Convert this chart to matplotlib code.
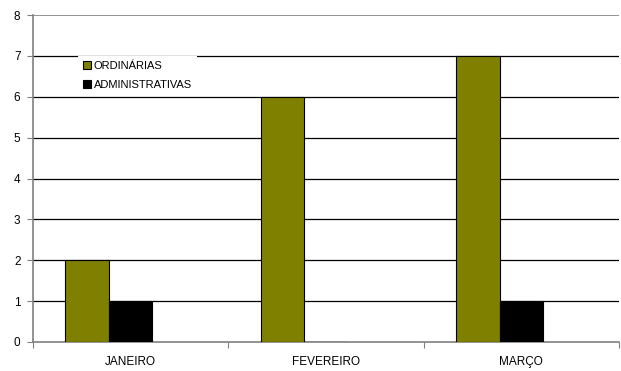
import matplotlib
matplotlib.use('Agg')
import matplotlib.pyplot as plt
import numpy as np

months = ['JANEIRO', 'FEVEREIRO', 'MARÇO']
ordinarias = [2, 6, 7]
administrativas = [1, 0, 1]

plt.rcParams['font.family'] = ['Liberation Sans', 'DejaVu Sans']

fig = plt.figure(figsize=(6.21, 3.71), dpi=100)
ax = fig.add_axes([33 / 621, 1 - 342 / 371, 586 / 621, 327 / 371])

x = np.arange(len(months)) + 0.5
bar_w = 0.2225

ax.bar(x - bar_w, ordinarias, width=bar_w, color='#808000', edgecolor='black',
       linewidth=0.8, label='ORDINÁRIAS', zorder=3)
ax.bar(x, administrativas, width=bar_w, color='black', edgecolor='black',
       linewidth=0.8, label='ADMINISTRATIVAS', zorder=3)

ax.set_xlim(0, 3)
ax.set_ylim(0, 8)
ax.set_yticks(range(0, 9))
ax.set_xticks([0, 1, 2, 3])
ax.set_xticklabels([])
ax.set_xticks(x, minor=True)
ax.set_xticklabels(months, minor=True)
ax.tick_params(axis='x', which='minor', length=0, pad=10, labelsize=8.5)
ax.tick_params(axis='x', which='major', length=4, color='#808080', direction='out')
ax.tick_params(axis='y', length=4, color='#808080', direction='out', labelsize=8.5, pad=5)

for v in range(1, 8):
    ax.axhline(v, color='black', linewidth=0.9, zorder=1)
ax.axhline(8, color='#808080', linewidth=1.2, zorder=1)

for s in ['top', 'right']:
    ax.spines[s].set_visible(False)
for s in ['left', 'bottom']:
    ax.spines[s].set_color('#808080')
    ax.spines[s].set_linewidth(1.2)

leg = ax.legend(loc='upper left', bbox_to_anchor=(0.077, 0.875), frameon=True,
                fancybox=False, framealpha=1, edgecolor='white', fontsize=8,
                handlelength=0.75, handleheight=0.75, handletextpad=0.2,
                labelspacing=0.8, borderpad=0.45, borderaxespad=0)
leg.get_frame().set_linewidth(0)
leg.set_zorder(5)

fig.savefig('out.png', dpi=100)
